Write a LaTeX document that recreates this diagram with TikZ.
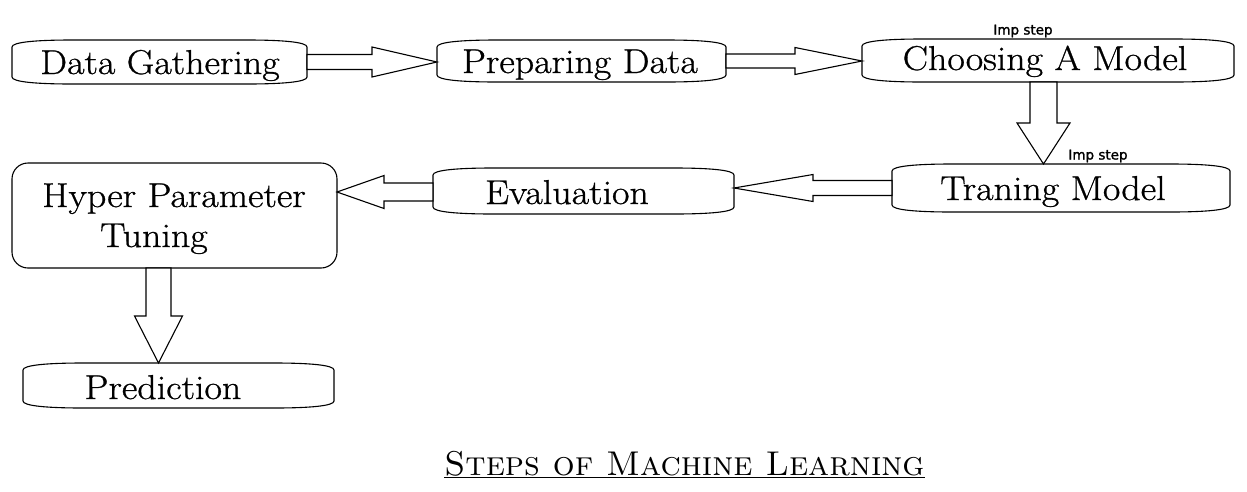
\documentclass[tikz,border=0pt]{standalone}
\usepackage{fontspec}
\usepackage{graphicx}
\usetikzlibrary{calc}
\newfontfamily\impfont[FakeBold=1.6]{DejaVu Sans}
\newfontfamily\boxfont[FakeStretch=1.1,FakeBold=0.8]{Latin Modern Roman}
\tikzset{
  boxline/.style={draw=black, line width=1.1pt},
  capbox/.style={draw=none, inner sep=0pt, outer sep=0pt, rectangle},
  lbl/.style={inner sep=0pt, anchor=base, font=\boxfont\fontsize{34.5}{40}\selectfont},
  imp/.style={inner sep=0pt, font=\impfont\fontsize{13.5}{15}\selectfont},
  arr/.style={draw=black, line width=1.1pt, fill=white, line join=miter},
}
\newcommand\capoutline[1]{%
  \draw[boxline] let \p1=(#1.south west), \p2=(#1.north east) in
  (\x1,\y1+7pt) -- (\x1,\y2-7pt)
  .. controls (\x1,\y2-2pt) and (\x1+25pt,\y2) .. (\x1+60pt,\y2)
  -- (\x2-60pt,\y2)
  .. controls (\x2-25pt,\y2) and (\x2,\y2-2pt) .. (\x2,\y2-7pt)
  -- (\x2,\y1+7pt)
  .. controls (\x2,\y1+2pt) and (\x2-25pt,\y1) .. (\x2-60pt,\y1)
  -- (\x1+60pt,\y1)
  .. controls (\x1+25pt,\y1) and (\x1,\y1+2pt) .. cycle;}
% #1 tail, #2 tip, #3 shaft half width, #4 head half width, #5 head length
\newcommand\blockarrow[5]{%
  \draw[arr] ($(#1)!#3!90:(#2)$)
  -- ($($(#2)!#5!(#1)$)!#3!-90:(#1)$)
  -- ($($(#2)!#5!(#1)$)!#4!-90:(#1)$)
  -- (#2)
  -- ($($(#2)!#5!(#1)$)!#4!90:(#1)$)
  -- ($($(#2)!#5!(#1)$)!#3!90:(#1)$)
  -- ($(#1)!#3!-90:(#2)$) -- cycle;}
\begin{document}
\begin{tikzpicture}[x=1pt,y=-1pt]
\useasboundingbox[fill=white] (0,0) rectangle (1247,491);

% boxes
\node[capbox, minimum width=295pt, minimum height=44pt] (dg) at (159.5,62) {};
\node[capbox, minimum width=289pt, minimum height=42pt] (pd) at (581.5,61) {};
\node[capbox, minimum width=372pt, minimum height=43pt] (cm) at (1048,60.5) {};
\node[capbox, minimum width=338pt, minimum height=48pt] (tm) at (1061,188) {};
\node[capbox, minimum width=301pt, minimum height=46pt] (ev) at (583.5,191) {};
\node[draw=black, line width=1.1pt, rounded corners=16pt, inner sep=0pt, outer sep=0pt,
      minimum width=325pt, minimum height=105pt] (hp) at (174.5,215.5) {};
\node[capbox, minimum width=311pt, minimum height=45pt] (pr) at (178.5,385.5) {};
\capoutline{dg}
\capoutline{pd}
\capoutline{cm}
\capoutline{tm}
\capoutline{ev}
\capoutline{pr}

% texts
\node[lbl] (dgt) at (160,74) {Data Gathering};
\node[lbl] (pdt) at (580,73) {Preparing Data};
\node[lbl] (cmt) at (1045,70) {Choosing A Model};
\node[lbl] (tmt) at (1053,200) {Traning Model};
\node[lbl] (evt) at (567,204) {Evaluation};
\node[lbl] (hpt1) at (174,207) {Hyper Parameter};
\node[lbl] (hpt2) at (154,247) {Tuning};
\node[lbl] (prt) at (163,399) {Prediction};
\node[imp] (imp1) at (1023,31) {Imp step};
\node[imp] (imp2) at (1098,156) {Imp step};

% arrows
\coordinate (a1e) at (dg.east -| pd.west);
\blockarrow{dg.east}{a1e}{7.5pt}{15pt}{65pt}
\coordinate (a2e) at (pd.east -| cm.west);
\blockarrow{pd.east}{a2e}{7pt}{13.5pt}{67pt}
\coordinate (a3s) at ([xshift=-4.5pt]cm.south);
\coordinate (a3e) at (a3s |- tm.north);
\blockarrow{a3s}{a3e}{13.5pt}{26.5pt}{41pt}
\coordinate (a4e) at (tm.west -| ev.east);
\blockarrow{tm.west}{a4e}{7.5pt}{13.5pt}{79pt}
\coordinate (a5s) at ([yshift=-1pt]ev.west);
\coordinate (a5e) at (a5s -| hp.east);
\blockarrow{a5s}{a5e}{9pt}{16.5pt}{47pt}
\coordinate (a6s) at ([xshift=-16pt]hp.south);
\coordinate (a6e) at (a6s |- pr.north);
\blockarrow{a6s}{a6e}{12.5pt}{24pt}{47pt}

% title
\node[inner sep=0pt, anchor=base] (title) at (684.5,475)
  {\resizebox{480pt}{!}{\textsc{Steps of Machine Learning}}};
\draw[line width=1.4pt] ([yshift=-2.5pt]title.base west) -- ([yshift=-2.5pt]title.base east);
\end{tikzpicture}
\end{document}
